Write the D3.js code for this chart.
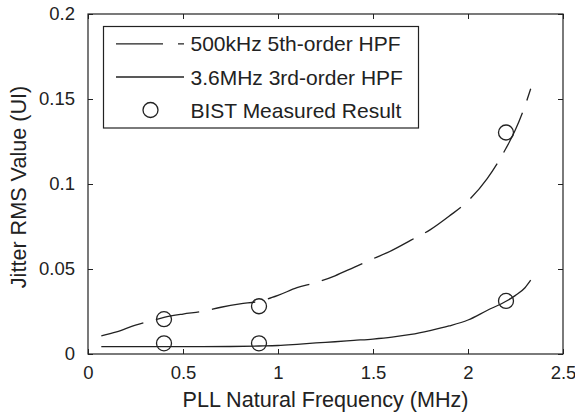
<!DOCTYPE html>
<html><head><meta charset="utf-8">
<script src="https://cdn.jsdelivr.net/npm/d3@7"></script>
<style>body{margin:0;background:#fff}svg{display:block}text{font-family:"Liberation Sans",Arial,sans-serif;fill:#222}</style>
</head><body><svg id="c" width="575" height="415"></svg>
<script>
const dashX = [0.07,0.15,0.25,0.35,0.4,0.5,0.6,0.7,0.8,0.9,1.0,1.1,1.2,1.3,1.4,1.5,1.6,1.7,1.8,1.9,2.0,2.1,2.2,2.25,2.3,2.33];
const dashY = [0.0107,0.013,0.017,0.020,0.0215,0.0235,0.025,0.0275,0.0295,0.031,0.0345,0.039,0.042,0.046,0.051,0.056,0.061,0.067,0.073,0.081,0.090,0.103,0.121,0.132,0.146,0.156];
const solidX = [0.07,0.2,0.4,0.6,0.75,0.9,1.0,1.1,1.2,1.3,1.4,1.5,1.6,1.7,1.8,1.9,2.0,2.1,2.2,2.25,2.3,2.33];
const solidY = [0.0043,0.0043,0.0043,0.0043,0.0044,0.0047,0.005,0.0057,0.0065,0.0072,0.008,0.0088,0.0099,0.0115,0.0138,0.0165,0.02,0.0256,0.031,0.0345,0.039,0.0434];
const measX = [0.4,0.4,0.9,0.9,2.2,2.2];
const measY = [0.0205,0.0063,0.0281,0.0063,0.1303,0.0312];
const xTicks = [0,0.5,1,1.5,2,2.5];
const yTicks = [0,0.05,0.1,0.15,0.2];
const legendLabels = ["500kHz 5th-order HPF","3.6MHz 3rd-order HPF","BIST Measured Result"];

const L=88,R=563,T=14,B=354;
const svg=d3.select("#c");
const x=d3.scaleLinear().domain([0,2.5]).range([L,R]);
const y=d3.scaleLinear().domain([0,0.2]).range([B,T]);
const col="#222";

const ax=g=>g.call(s=>s.select(".domain").remove()).call(s=>s.selectAll("line").attr("stroke",col)).call(s=>s.selectAll("text").style("font-size","18.5px").attr("fill",col));
svg.append("g").attr("transform",`translate(0,${B})`).call(d3.axisBottom(x).tickValues(xTicks).tickFormat(d3.format("~g")).tickSizeInner(-5).tickPadding(12)).call(ax);
svg.append("g").attr("transform",`translate(0,${T})`).call(d3.axisTop(x).tickValues(xTicks).tickFormat("").tickSizeInner(-5)).call(ax);
svg.append("g").attr("transform",`translate(${L},0)`).call(d3.axisLeft(y).tickValues(yTicks).tickFormat(d3.format("~g")).tickSizeInner(-5).tickPadding(13)).call(ax);
svg.append("g").attr("transform",`translate(${R},0)`).call(d3.axisRight(y).tickValues(yTicks).tickFormat("").tickSizeInner(-5)).call(ax);
svg.append("rect").attr("x",L).attr("y",T).attr("width",R-L).attr("height",B-T).attr("fill","none").attr("stroke",col).attr("stroke-width",1.2);

const line=d3.line().x(d=>x(d[0])).y(d=>y(d[1])).curve(d3.curveMonotoneX);
svg.append("path").datum(dashX.map((v,i)=>[v,dashY[i]])).attr("d",line).attr("fill","none").attr("stroke",col).attr("stroke-width",1.3).attr("stroke-dasharray","44,13");
svg.append("path").datum(solidX.map((v,i)=>[v,solidY[i]])).attr("d",line).attr("fill","none").attr("stroke",col).attr("stroke-width",1.3);
svg.selectAll("circle.m").data(measX.map((v,i)=>[v,measY[i]])).enter().append("circle").attr("class","m")
  .attr("cx",d=>x(d[0])).attr("cy",d=>y(d[1])).attr("r",7.5).attr("fill","none").attr("stroke",col).attr("stroke-width",1.3);

svg.append("text").attr("x",(L+R)/2).attr("y",407).attr("text-anchor","middle").style("font-size","21.6px").text("PLL Natural Frequency (MHz)");
svg.append("text").attr("transform",`translate(26,187) rotate(-90)`).attr("text-anchor","middle").style("font-size","21.6px").text("Jitter RMS Value (UI)");

// legend
const lg=svg.append("g");
lg.append("rect").attr("x",103.5).attr("y",26.5).attr("width",315).attr("height",101.5).attr("fill","#fff").attr("stroke",col).attr("stroke-width",1.2);
const rows=[43.8,77,110];
lg.append("line").attr("x1",116).attr("x2",184).attr("y1",rows[0]).attr("y2",rows[0]).attr("stroke",col).attr("stroke-width",1.3).attr("stroke-dasharray","47,15");
lg.append("line").attr("x1",116).attr("x2",184).attr("y1",rows[1]).attr("y2",rows[1]).attr("stroke",col).attr("stroke-width",1.3);
lg.append("circle").attr("cx",150.5).attr("cy",rows[2]).attr("r",7.5).attr("fill","none").attr("stroke",col).attr("stroke-width",1.3);
legendLabels.forEach((t,i)=>lg.append("text").attr("x",190.5).attr("y",rows[i]).attr("dy","0.36em").style("font-size","21px").text(t));
</script></body></html>
